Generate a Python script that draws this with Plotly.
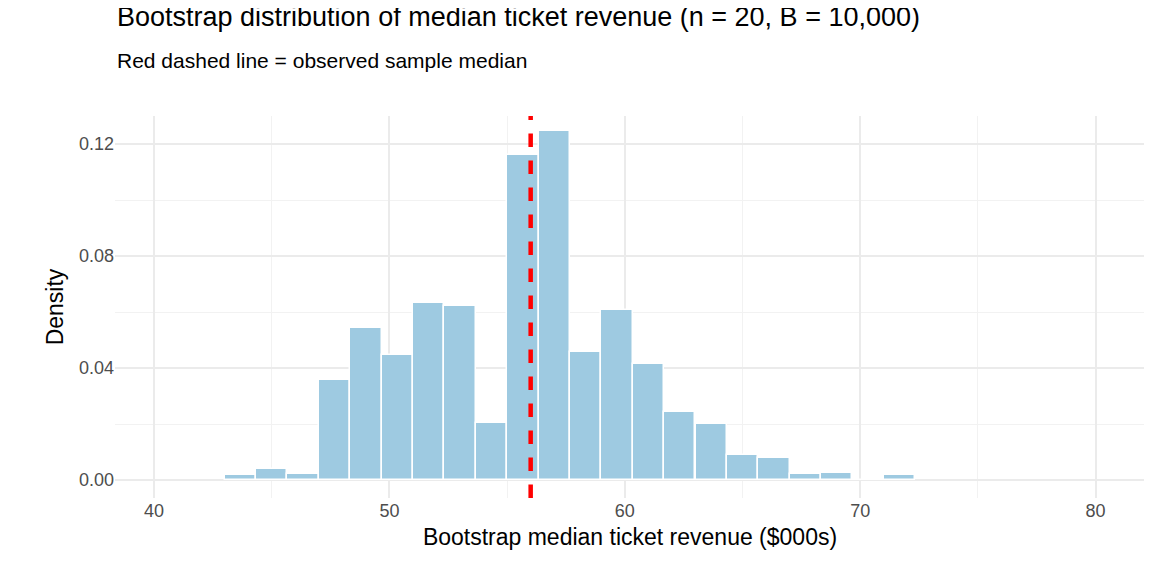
import plotly.graph_objects as go

# histogram bins (width 4/3, first left edge 43.0) and densities
bin_width = 4 / 3
bin_centers = [43.67, 45.0, 46.33, 47.67, 49.0, 50.33, 51.67, 53.0, 54.33, 55.67,
               57.0, 58.33, 59.67, 61.0, 62.33, 63.67, 65.0, 66.33, 67.67, 69.0,
               70.33, 71.67]
density = [0.0018, 0.0039, 0.0021, 0.0357, 0.0543, 0.0446, 0.0632, 0.0621, 0.0204, 0.1160,
           0.1246, 0.0457, 0.0607, 0.0414, 0.0243, 0.0200, 0.0089, 0.0079, 0.0021, 0.0025,
           0.0, 0.0018]
observed_median = 56.0

fig = go.Figure()
fig.add_trace(go.Bar(x=bin_centers, y=density, width=bin_width,
                     marker=dict(color="#9ECAE1", line=dict(color="white", width=1.5)),
                     showlegend=False))
fig.add_vline(x=observed_median, line=dict(color="#FF0000", width=4.5, dash="dash"))

fig.update_layout(
    width=1152, height=576,
    paper_bgcolor="white", plot_bgcolor="white",
    margin=dict(l=107, r=15, t=108, b=86, autoexpand=False),
    font=dict(family="Liberation Sans, Arial, sans-serif", color="#4D4D4D"),
    bargap=0,
    annotations=[
        dict(text="Bootstrap distribution of median ticket revenue (n = 20, B = 10,000)",
             xref="paper", yref="paper", x=0, y=1.26, xanchor="left", yanchor="middle",
             showarrow=False, font=dict(size=27, color="black")),
        dict(text="Red dashed line = observed sample median",
             xref="paper", yref="paper", x=0, y=1.145, xanchor="left", yanchor="middle",
             showarrow=False, font=dict(size=21, color="black")),
    ],
)
fig.update_xaxes(range=[38.34, 82.1], tickvals=[40, 50, 60, 70, 80],
                 showgrid=True, gridcolor="#EBEBEB", gridwidth=1.5, zeroline=False,
                 minor=dict(tickvals=[45, 55, 65, 75], showgrid=True, gridcolor="#F2F2F2", gridwidth=1),
                 tickfont=dict(size=18, color="#4D4D4D"),
                 title=dict(text="Bootstrap median ticket revenue ($000s)", font=dict(size=23, color="black"),
                            standoff=8))
fig.update_yaxes(range=[-0.0064, 0.13], tickvals=[0, 0.04, 0.08, 0.12],
                 ticktext=["0.00", "0.04", "0.08", "0.12"],
                 showgrid=True, gridcolor="#EBEBEB", gridwidth=1.5, zeroline=False,
                 minor=dict(tickvals=[0.02, 0.06, 0.10], showgrid=True, gridcolor="#F2F2F2", gridwidth=1),
                 tickfont=dict(size=18, color="#4D4D4D"),
                 title=dict(text="Density", font=dict(size=23, color="black"), standoff=8))

fig.write_html("out.html")
